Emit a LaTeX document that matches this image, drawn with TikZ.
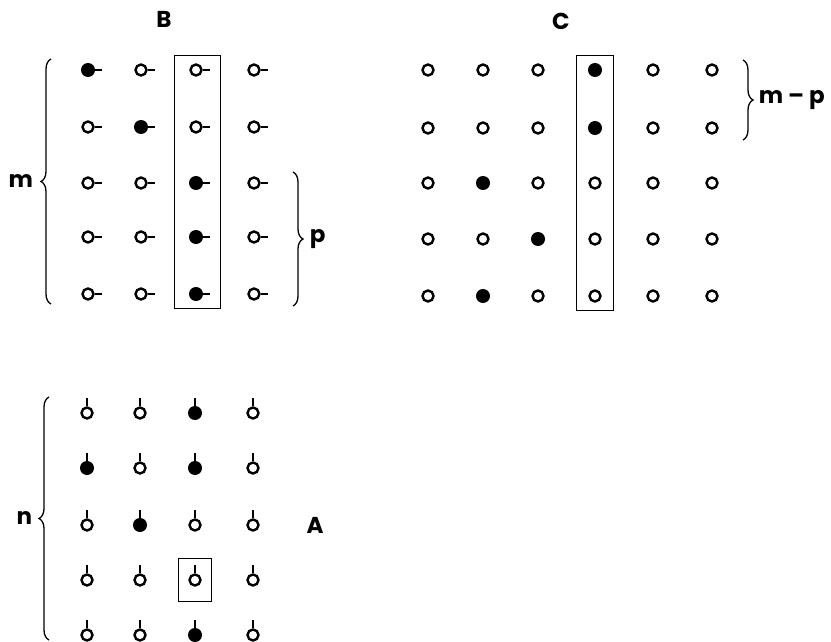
\documentclass[tikz,border=0pt]{standalone}
\usepackage{fontspec}
\setmainfont{Poppins}
\usetikzlibrary{fit,decorations.pathreplacing}

\begin{document}
\begin{tikzpicture}[x=1pt,y=-1pt,font=\fontsize{23}{27}\selectfont\bfseries,
  dot/.style={circle,draw,line width=2.4pt,minimum size=11pt,inner sep=0pt},
  stem/.style={line width=1.8pt},
  frame/.style={draw,line width=1.2pt,inner sep=0pt},
  brc/.style={decorate,decoration={brace,amplitude=10pt},line width=1.3pt}]
\useasboundingbox (0,0) rectangle (831,642);

% B
\node (labB) at (164,19) {B};
\foreach \r/\y in {1/70,2/127,3/183,4/237,5/294}
  \foreach \c/\x in {1/88,2/141,3/196,4/254} {
    \node[dot] (b\r\c) at (\x,\y) {};
    \draw[stem] (b\r\c.east) -- ++(7pt,0pt);
  }
\foreach \n in {b11,b22,b33,b43,b53} \fill (\n) circle (7pt);
\node[frame,fit=(b13)(b53),inner xsep=16pt,inner ysep=7.5pt,xshift=1.5pt] (boxB) {};
\draw[brc] (51,304) -- (51,59) node[midway,left=14pt] (labm) {m};
\draw[brc] (293,172) -- (293,306) node[midway,right=13pt] (labp) {p};

% C
\node (labC) at (561,21) {C};
\foreach \r/\y in {1/70,2/128,3/183,4/239,5/296}
  \foreach \c/\x in {1/428,2/483,3/538,4/595,5/653,6/712}
    \node[dot] (c\r\c) at (\x,\y) {};
\foreach \n in {c14,c24,c32,c43,c52} \fill (\n) circle (7pt);
\node[frame,fit=(c14)(c54),inner xsep=12pt,inner ysep=8pt] (boxC) {};
\draw[brc] (743,60) -- (743,140) node[midway,right=12pt] (labmp) {m -- p};

% A
\node (labA) at (315,525) {A};
\foreach \r/\y in {1/413,2/468,3/525,4/580,5/635}
  \foreach \c/\x in {1/87,2/140,3/195,4/253} {
    \node[dot] (a\r\c) at (\x,\y) {};
    \draw[stem] (a\r\c.north) -- ++(0pt,8pt);
  }
\foreach \n in {a13,a21,a23,a32,a53} \fill (\n) circle (7pt);
\node[frame,fit=(a43),inner xsep=10pt,inner ysep=15pt] (boxA) {};
\draw[brc] (49,640) -- (49,397) node[midway,left=13pt] (labn) {n};
\end{tikzpicture}
\end{document}
